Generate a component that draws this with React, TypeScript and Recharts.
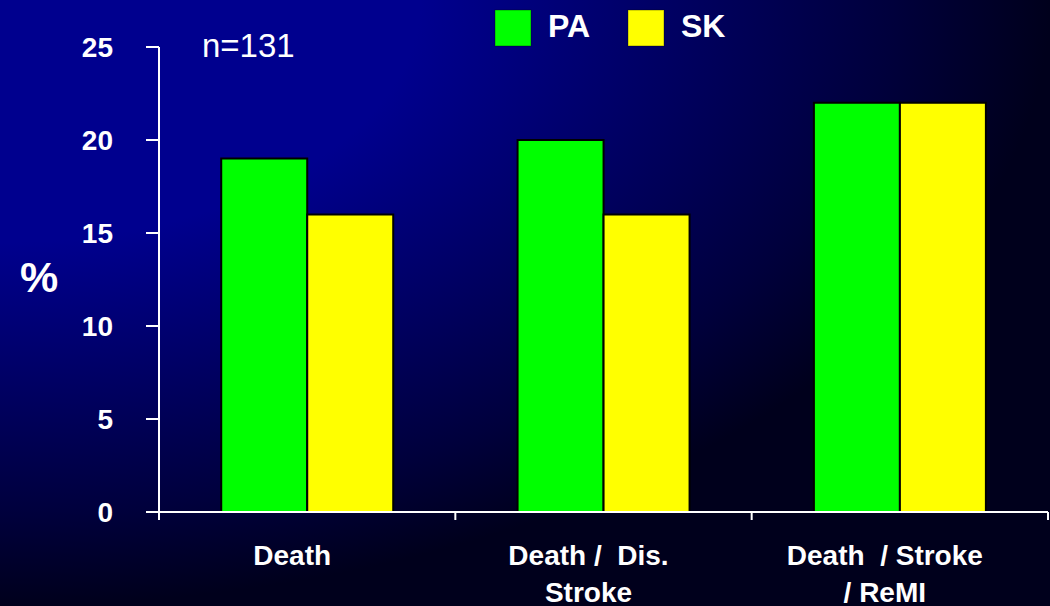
import { BarChart, Bar, XAxis, YAxis } from "recharts";

const categories = ["Death", "Death /  Dis.\nStroke", "Death  / Stroke\n/ ReMI"];
const paValues = [19, 20, 22];
const skValues = [16, 16, 22];
const yTicks = [0, 5, 10, 15, 20, 25];
const seriesNames = ["PA", "SK"];
const seriesColors = ["#00ff00", "#ffff00"];

const FONT = "'Liberation Sans', Arial, Helvetica, sans-serif";

const data = categories.map((name, i) => ({
  name,
  PA: paValues[i],
  SK: skValues[i],
}));

// category label plus tick marks on the band edges (payload.offset is half the band)
function CategoryTick(props: any) {
  const { x, y, payload, index, visibleTicksCount } = props;
  const half = payload.offset ?? 0;
  const lines = String(payload.value).split("\n");
  const isLast = index === visibleTicksCount - 1;
  return (
    <g>
      <line x1={x - half} x2={x - half} y1={y} y2={y + 8} stroke="#fff" strokeWidth={2} />
      {isLast && (
        <line x1={x + half} x2={x + half} y1={y} y2={y + 8} stroke="#fff" strokeWidth={2} />
      )}
      <text
        x={x - 15}
        y={y}
        fill="#fff"
        fontSize={28}
        fontWeight="bold"
        fontFamily={FONT}
        textAnchor="middle"
        style={{ whiteSpace: "pre" }}
      >
        {lines.map((line, i) => (
          <tspan key={i} x={x - 15} dy={i === 0 ? 53 : 37}>
            {line}
          </tspan>
        ))}
      </text>
    </g>
  );
}

export default function App() {
  return (
    <div
      style={{
        position: "absolute",
        left: 0,
        top: 0,
        width: 1050,
        height: 606,
        background:
          "radial-gradient(ellipse 100% 100% at 0 0, #00008e 40%, #00003c 85%, #00001c 100%)",
      }}
    >
      <BarChart
        width={1050}
        height={606}
        data={data}
        margin={{ top: 47, right: 2, bottom: 0, left: 0 }}
        barCategoryGap="21%"
        barGap={0}
      >
        <XAxis
          dataKey="name"
          height={94}
          axisLine={{ stroke: "#fff", strokeWidth: 2 }}
          tickLine={false}
          tickSize={0}
          tickMargin={0}
          interval={0}
          tick={<CategoryTick />}
        />
        <YAxis
          width={159}
          domain={[0, 25]}
          ticks={yTicks}
          interval={0}
          tickSize={13}
          tickMargin={33}
          axisLine={{ stroke: "#fff", strokeWidth: 2 }}
          tickLine={{ stroke: "#fff", strokeWidth: 2 }}
          tick={{ fill: "#fff", fontSize: 28, fontWeight: "bold", fontFamily: FONT }}
        />
        {seriesNames.map((s, i) => (
          <Bar
            key={s}
            dataKey={s}
            fill={seriesColors[i]}
            stroke="#000"
            strokeWidth={2}
            isAnimationActive={false}
          />
        ))}
      </BarChart>

      <svg
        width={1050}
        height={606}
        style={{ position: "absolute", left: 0, top: 0, pointerEvents: "none" }}
        fontFamily={FONT}
      >
        <text x={20} y={292} fill="#fff" fontSize={43} fontWeight="bold">
          %
        </text>
        <text x={202} y={57} fill="#fff" fontSize={33}>
          n=131
        </text>
        {seriesNames.map((s, i) => (
          <g key={s} transform={`translate(${495 + i * 133}, 10)`}>
            <rect width={36} height={36} fill={seriesColors[i]} stroke="rgba(0,0,0,0.35)" />
            <text x={53} y={27} fill="#fff" fontSize={32} fontWeight="bold">
              {s}
            </text>
          </g>
        ))}
      </svg>
    </div>
  );
}
